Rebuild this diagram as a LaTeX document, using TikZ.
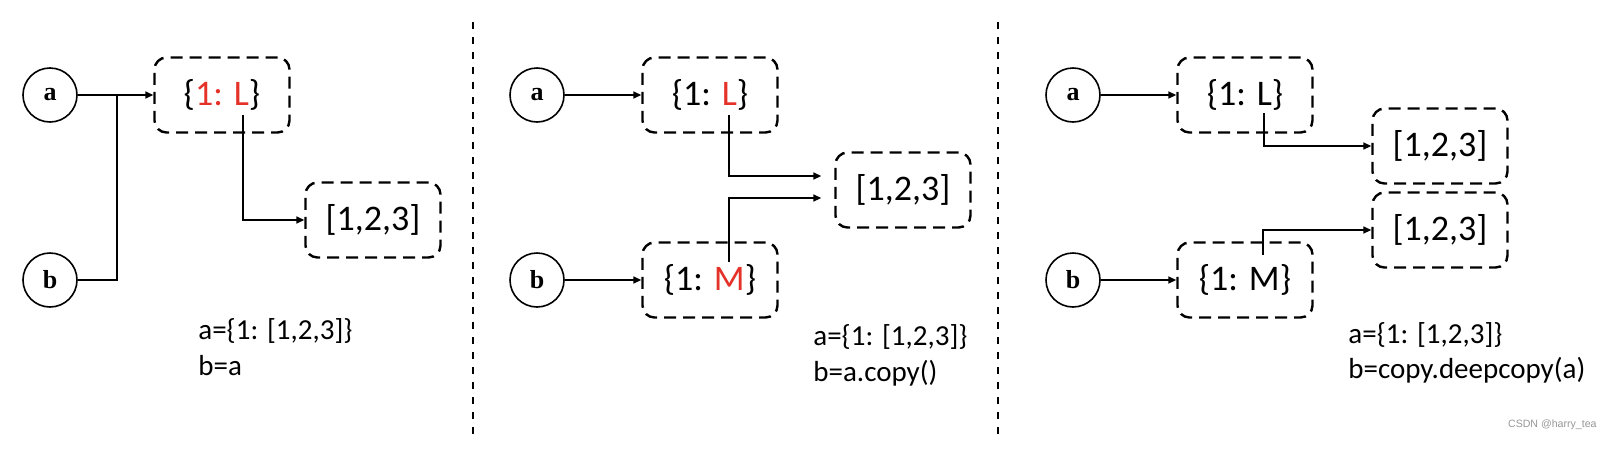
\documentclass[tikz,border=0pt]{standalone}
\usepackage{fontspec}
\setmainfont{Carlito}
\newfontfamily\circfont{Liberation Serif}
\newfontfamily\markfont{Liberation Sans}
\usepackage{xcolor}
\usetikzlibrary{arrows.meta}
\definecolor{Key}{RGB}{229,50,40}
\definecolor{Mark}{RGB}{150,150,150}
\tikzset{
  var/.style={circle,draw,line width=0.8pt,minimum size=27pt,inner sep=0pt,
    font=\circfont\bfseries\fontsize{13}{15}\selectfont},
  obj/.style={draw,dash pattern=on 6pt off 3.5pt,line width=1.2pt,rounded corners=6pt,
    minimum width=67.5pt,minimum height=37.5pt,inner sep=0pt,font=\fontsize{18}{20}\selectfont},
  ref/.style={line width=0.75pt,-{Triangle[length=4pt,width=3.5pt]}},
  code/.style={anchor=base west,inner sep=0pt,font=\fontsize{14.5}{16}\selectfont},
  sep/.style={line width=1pt,dash pattern=on 3.5pt off 4pt}
}

\begin{document}
\begin{tikzpicture}[x=0.5pt,y=-0.5pt]
\useasboundingbox (0,0) rectangle (1600,450);
% dividers
\draw[sep] (473,22) -- (473,435);
\draw[sep] (998,22) -- (998,435);

% b=a
\node[var] (a1) at (50,95) {a};
\node[var] (b1) at (50,280) {b};
\node[obj] (d1) at (222,95) {\{\textcolor{Key}{1: L}\}};
\node[obj] (l1) at (373,220) {[1,2,3]};
\coordinate (j1) at (117,95);
\coordinate (k1) at (243,115);
\draw[ref] (a1) -- (d1);
\draw[line width=0.75pt] (b1) -| (j1);
\draw[ref] (k1) |- (l1);
\node[code] (s1) at (198,339) {a=\{1: [1,2,3]\}};
\node[code] (t1) at (198,375) {b=a};

% b=a.copy()
\node[var] (a2) at (537,95) {a};
\node[var] (b2) at (537,280) {b};
\node[obj] (d2) at (710,95) {\{1: \textcolor{Key}{L}\}};
\node[obj] (m2) at (710,280) {\{1: \textcolor{Key}{M}\}};
\node[obj] (l2) at (903,190) {[1,2,3]};
\coordinate (k2) at (729,115);
\coordinate (n2) at (729,262);
\draw[ref] (a2) -- (d2);
\draw[ref] (b2) -- (m2);
\draw[ref] (k2) |- ([xshift=-6.5pt,yshift=7pt]l2.west);
\draw[ref] (n2) |- ([xshift=-6.5pt,yshift=-4pt]l2.west);
\node[code] (s2) at (813,345) {a=\{1: [1,2,3]\}};
\node[code] (t2) at (813,381) {b=a.copy()};

% b=copy.deepcopy(a)
\node[var] (a3) at (1073,95) {a};
\node[var] (b3) at (1073,280) {b};
\node[obj] (d3) at (1245,95) {\{1: L\}};
\node[obj] (m3) at (1245,280) {\{1: M\}};
\node[obj] (l3) at (1440,146) {[1,2,3]};
\node[obj] (c3) at (1440,230) {[1,2,3]};
\coordinate (k3) at (1264,113);
\coordinate (n3) at (1263,255);
\draw[ref] (a3) -- (d3);
\draw[ref] (b3) -- (m3);
\draw[ref] (k3) |- (l3);
\draw[ref] (n3) |- (c3);
\node[code] (s3) at (1348,343) {a=\{1: [1,2,3]\}};
\node[code] (t3) at (1348,378) {b=copy.deepcopy(a)};

\node[anchor=east,text=Mark,inner sep=0pt,font=\markfont\fontsize{5.3}{6}\selectfont] (wm) at (1597,425) {CSDN @harry\_tea};
\end{tikzpicture}
\end{document}
